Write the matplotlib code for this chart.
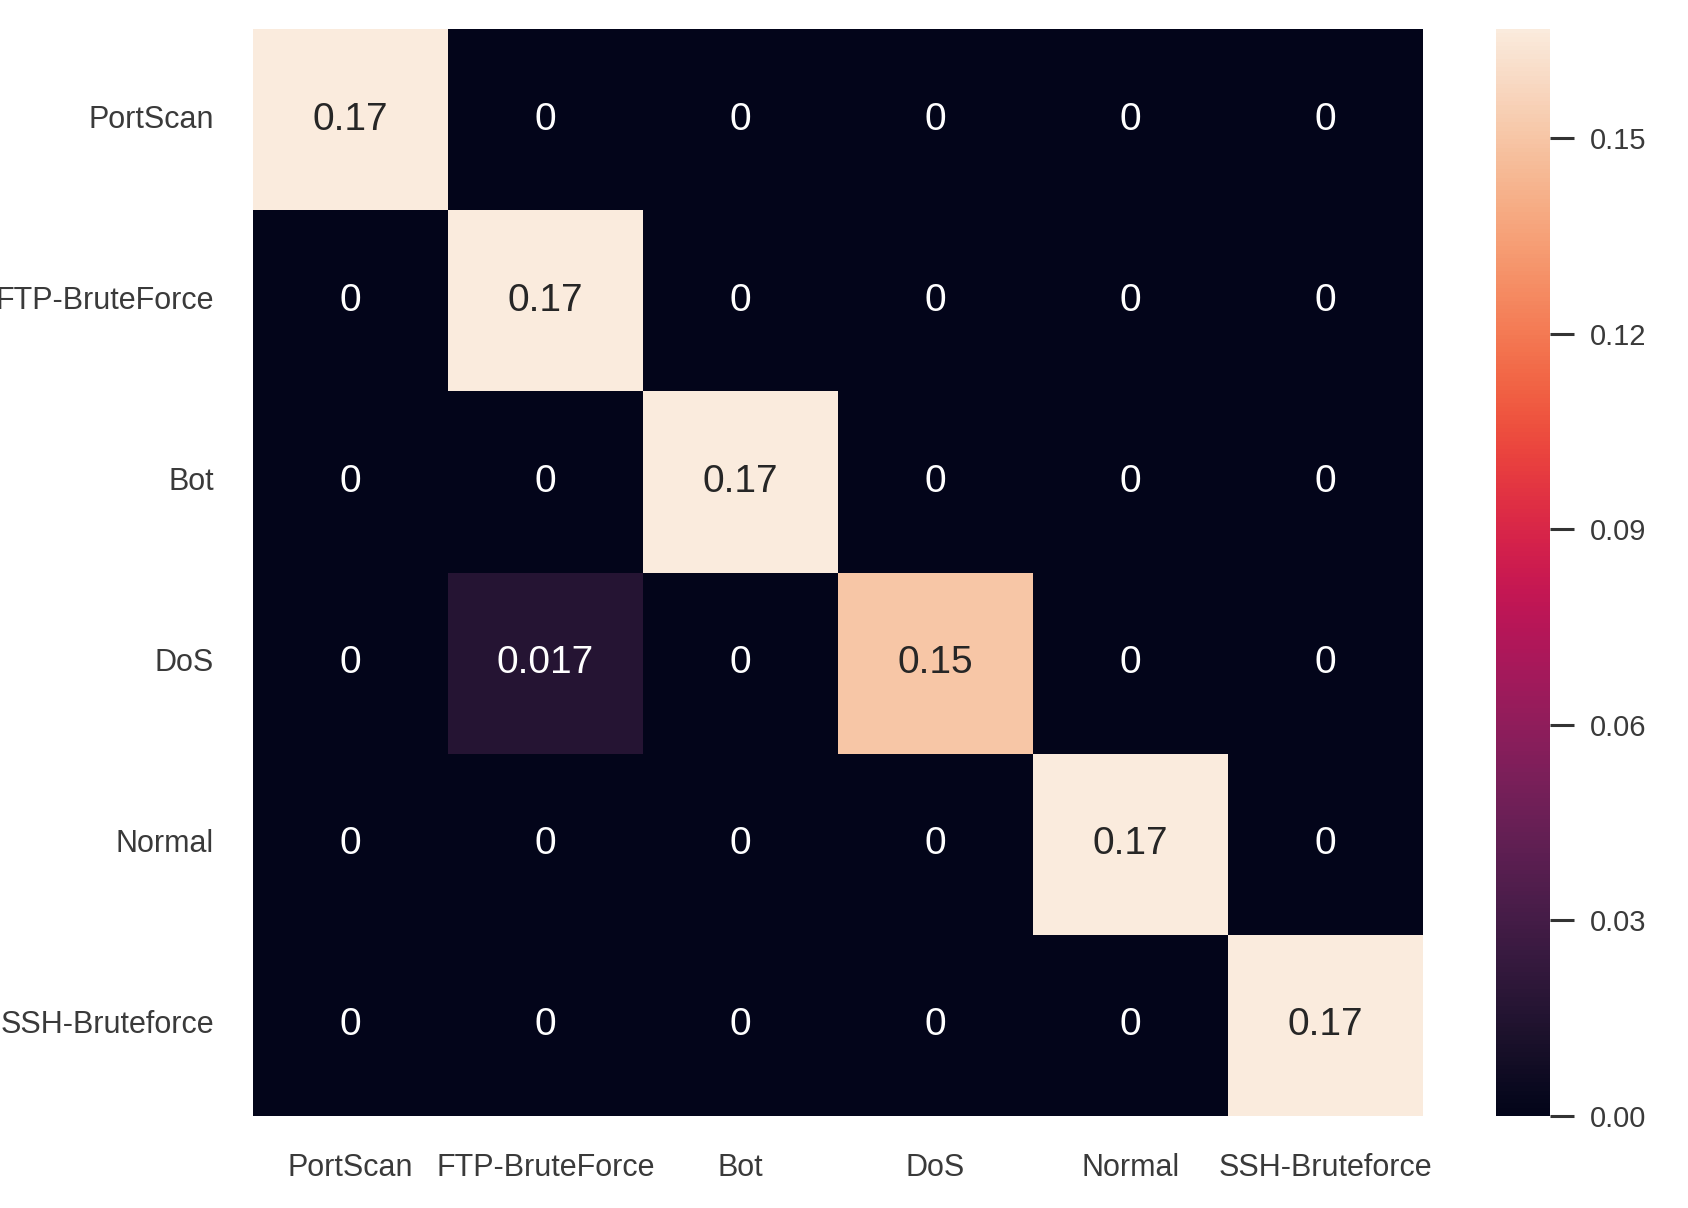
"""
Normalised confusion matrix for the attack classes, drawn as a seaborn heatmap.
"""

import matplotlib
matplotlib.use("Agg")
import matplotlib.pyplot as plt
import numpy as np
import seaborn as sns

labels = ["PortScan", "FTP-BruteForce", "Bot", "DoS", "Normal", "SSH-Bruteforce"]

# Rows: true class, columns: predicted class (fraction of all samples)
cm = [
    [0.1667, 0.0,    0.0,    0.0,  0.0,    0.0],
    [0.0,    0.1667, 0.0,    0.0,  0.0,    0.0],
    [0.0,    0.0,    0.1667, 0.0,  0.0,    0.0],
    [0.0,    0.0167, 0.0,    0.15, 0.0,    0.0],
    [0.0,    0.0,    0.0,    0.0,  0.1667, 0.0],
    [0.0,    0.0,    0.0,    0.0,  0.0,    0.1667],
]

cbar_ticks = [0.0, 0.03, 0.06, 0.09, 0.12, 0.15]


def main():
    sns.set_style("ticks")
    plt.rcParams["font.family"] = ["Liberation Sans", "DejaVu Sans"]

    fig = plt.figure(figsize=(16.88, 12.08), dpi=100)
    ax = fig.add_axes([253 / 1688, 1 - 1116 / 1208, 1170 / 1688, 1087 / 1208])
    cax = fig.add_axes([1496 / 1688, 1 - 1116 / 1208, 54 / 1688, 1087 / 1208])

    data = np.array(cm)
    sns.heatmap(data, annot=True, ax=ax, cbar_ax=cax, vmin=0,
                xticklabels=labels, yticklabels=labels,
                annot_kws={"fontsize": 28})

    # Tick labels on the matrix, no tick marks
    ax.tick_params(axis="both", length=0, labelsize=22, colors="#3a3a3a")
    ax.tick_params(axis="x", pad=27)
    ax.tick_params(axis="y", pad=28)
    plt.setp(ax.get_yticklabels(), rotation=0)
    plt.setp(ax.get_xticklabels(), rotation=0)

    # Colour bar ticks
    cax.set_yticks(cbar_ticks)
    cax.set_yticklabels(["%.2f" % t for t in cbar_ticks])
    cax.tick_params(length=17, width=2.2, color="#333333", labelsize=21,
                    labelcolor="#3a3a3a", pad=12)
    for s in cax.spines.values():
        s.set_visible(False)

    fig.savefig("out.png", dpi=100)


if __name__ == "__main__":
    main()
